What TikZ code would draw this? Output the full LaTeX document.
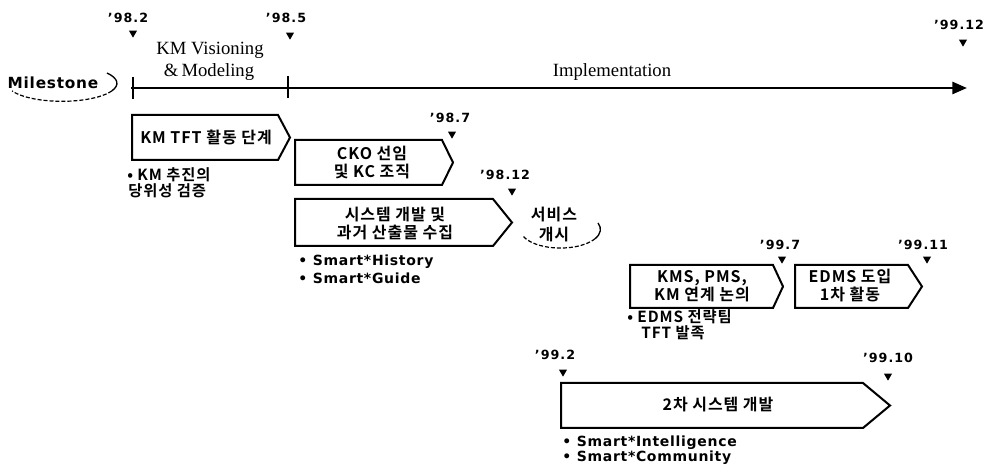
\documentclass[tikz,border=0pt]{standalone}
\usepackage{fontspec}
\setmainfont{Liberation Serif}
\newfontfamily\krfont{Noto Sans CJK KR}[BoldFont={Noto Sans CJK KR Bold},LetterSpace=6]
\newfontfamily\datefont{DejaVu Sans}[LetterSpace=8]
\newfontfamily\heavyfont{DejaVu Sans}[LetterSpace=5]
\usetikzlibrary{shapes.geometric,arrows.meta}
\tikzset{
  date/.style={font=\datefont\bfseries\fontsize{9.5}{11}\selectfont, inner sep=0},
  tri/.style={regular polygon, regular polygon sides=3, shape border rotate=180,
              fill=black, draw=none, inner sep=0, minimum size=7pt},
  boxline/.style={draw=black, line width=1.5pt, line join=miter},
  boxtext/.style={font=\krfont\bfseries\fontsize{12}{13.5}\selectfont, align=center, inner sep=0},
  note/.style={font=\krfont\bfseries\fontsize{11.5}{12}\selectfont, align=left, inner sep=0, anchor=west},
  smart/.style={font=\heavyfont\bfseries\fontsize{10.5}{12}\selectfont, inner sep=0, anchor=west},
  phase/.style={font=\fontsize{14}{16}\selectfont, inner sep=0},
  tick/.style={line width=2pt},
  axis/.style={line width=2pt, -{Triangle[length=11pt,width=9pt]}},
}
\newcommand\pbox[5]{% left, top, bottom, straight end, tip
  \draw[boxline] (#1,#2) -- (#4,#2) -- (#5,{(#2+#3)/2}) -- (#4,#3) -- (#1,#3) -- cycle;}
\begin{document}
\begin{tikzpicture}[x=0.75pt,y=-0.75pt]
\useasboundingbox (0,0) rectangle (986,466);

% ---- dates and markers
\node[date] (d982) at (128,18) {’98.2};
\node[tri]  (t982) at (133,33) {};
\node[date] (d985) at (286,18) {’98.5};
\node[tri]  (t985) at (290,35) {};
\node[date] (d9912) at (959,25) {’99.12};
\node[tri]  (t9912) at (963,42) {};
\node[date] (d987) at (450,118) {’98.7};
\node[tri]  (t987) at (452,134) {};
\node[date] (d9812) at (505,175) {’98.12};
\node[tri]  (t9812) at (512,191) {};
\node[date] (d997) at (780,245) {’99.7};
\node[tri]  (t997) at (782,259) {};
\node[date] (d9911) at (923,245) {’99.11};
\node[tri]  (t9911) at (927,259) {};
\node[date] (d992) at (555,355) {’99.2};
\node[tri]  (t992) at (563,372) {};
\node[date] (d9910) at (888,358) {’99.10};
\node[tri]  (t9910) at (888,376) {};

% ---- milestone
\node[font=\heavyfont\bfseries\fontsize{11.5}{13}\selectfont, inner sep=0] (ms) at (53,83) {Milestone};
\coordinate (msa) at (107,73);
\draw[line width=1pt] (msa) arc[start angle=35, end angle=-25, x radius=41.25pt, y radius=13.5pt] coordinate (msb);
\draw[line width=0.9pt, dash pattern=on 3pt off 1.5pt] (msb) arc[start angle=-25, end angle=-155, x radius=41.25pt, y radius=13.5pt];

% ---- timeline
\coordinate (ax0) at (131,88);
\coordinate (ax1) at (967,88);
\draw[axis] (ax0) -- (ax1);
\coordinate (tk1a) at (133,77); \coordinate (tk1b) at (133,99);
\coordinate (tk2a) at (288,76); \coordinate (tk2b) at (288,98);
\draw[tick] (tk1a) -- (tk1b);
\draw[tick] (tk2a) -- (tk2b);
\node[phase] (kmv) at (210,50) {KM Visioning};
\node[phase] (kmm) at (209,72) {\&\,Modeling};
\node[phase] (impl) at (612,72) {Implementation};

% ---- boxes
\pbox{132}{115}{160}{278}{290}
\node[boxtext] (b1) at (206,137) {KM TFT 활동 단계};
\pbox{295}{140}{185}{442}{453}
\node[boxtext] (b2) at (372,163) {CKO 선임\\및 KC 조직};
\pbox{295}{199}{246}{493}{512}
\node[boxtext] (b3) at (395,224) {시스템 개발 및\\과거 산출물 수집};
\pbox{630}{265}{308}{773}{783}
\node[boxtext] (b4) at (702,286) {KMS, PMS,\\KM 연계 논의};
\pbox{795}{265}{308}{908}{922}
\node[boxtext] (b5) at (850,286) {EDMS 도입\\1차 활동};
\pbox{561}{383}{428}{863}{890}
\node[boxtext] (b6) at (718,405) {2차 시스템 개발};

% ---- service launch
\node[font=\krfont\bfseries\fontsize{12}{15}\selectfont, align=center, inner sep=0] (svc) at (554,225) {서비스\\개시};
\coordinate (sva) at (598,223);
\draw[line width=1pt] (sva) arc[start angle=20, end angle=-30, x radius=30pt, y radius=14pt] coordinate (svb);
\draw[line width=0.9pt, dash pattern=on 3pt off 1.5pt] (svb) arc[start angle=-30, end angle=-160, x radius=30pt, y radius=14pt];

% ---- notes
\node[note] (n1a) at (127,175) {• KM 추진의};
\node[note] (n1b) at (128,191) {당위성 검증};
\node[smart] (s1) at (298,262) {• Smart*History};
\node[smart] (s2) at (298,278) {• Smart*Guide};
\node[note] (n2a) at (627,317) {• EDMS 전략팀};
\node[note] (n2b) at (641,333) {TFT 발족};
\node[smart] (s3) at (562,443) {• Smart*Intelligence};
\node[smart] (s4) at (562,458) {• Smart*Community};
\end{tikzpicture}
\end{document}
